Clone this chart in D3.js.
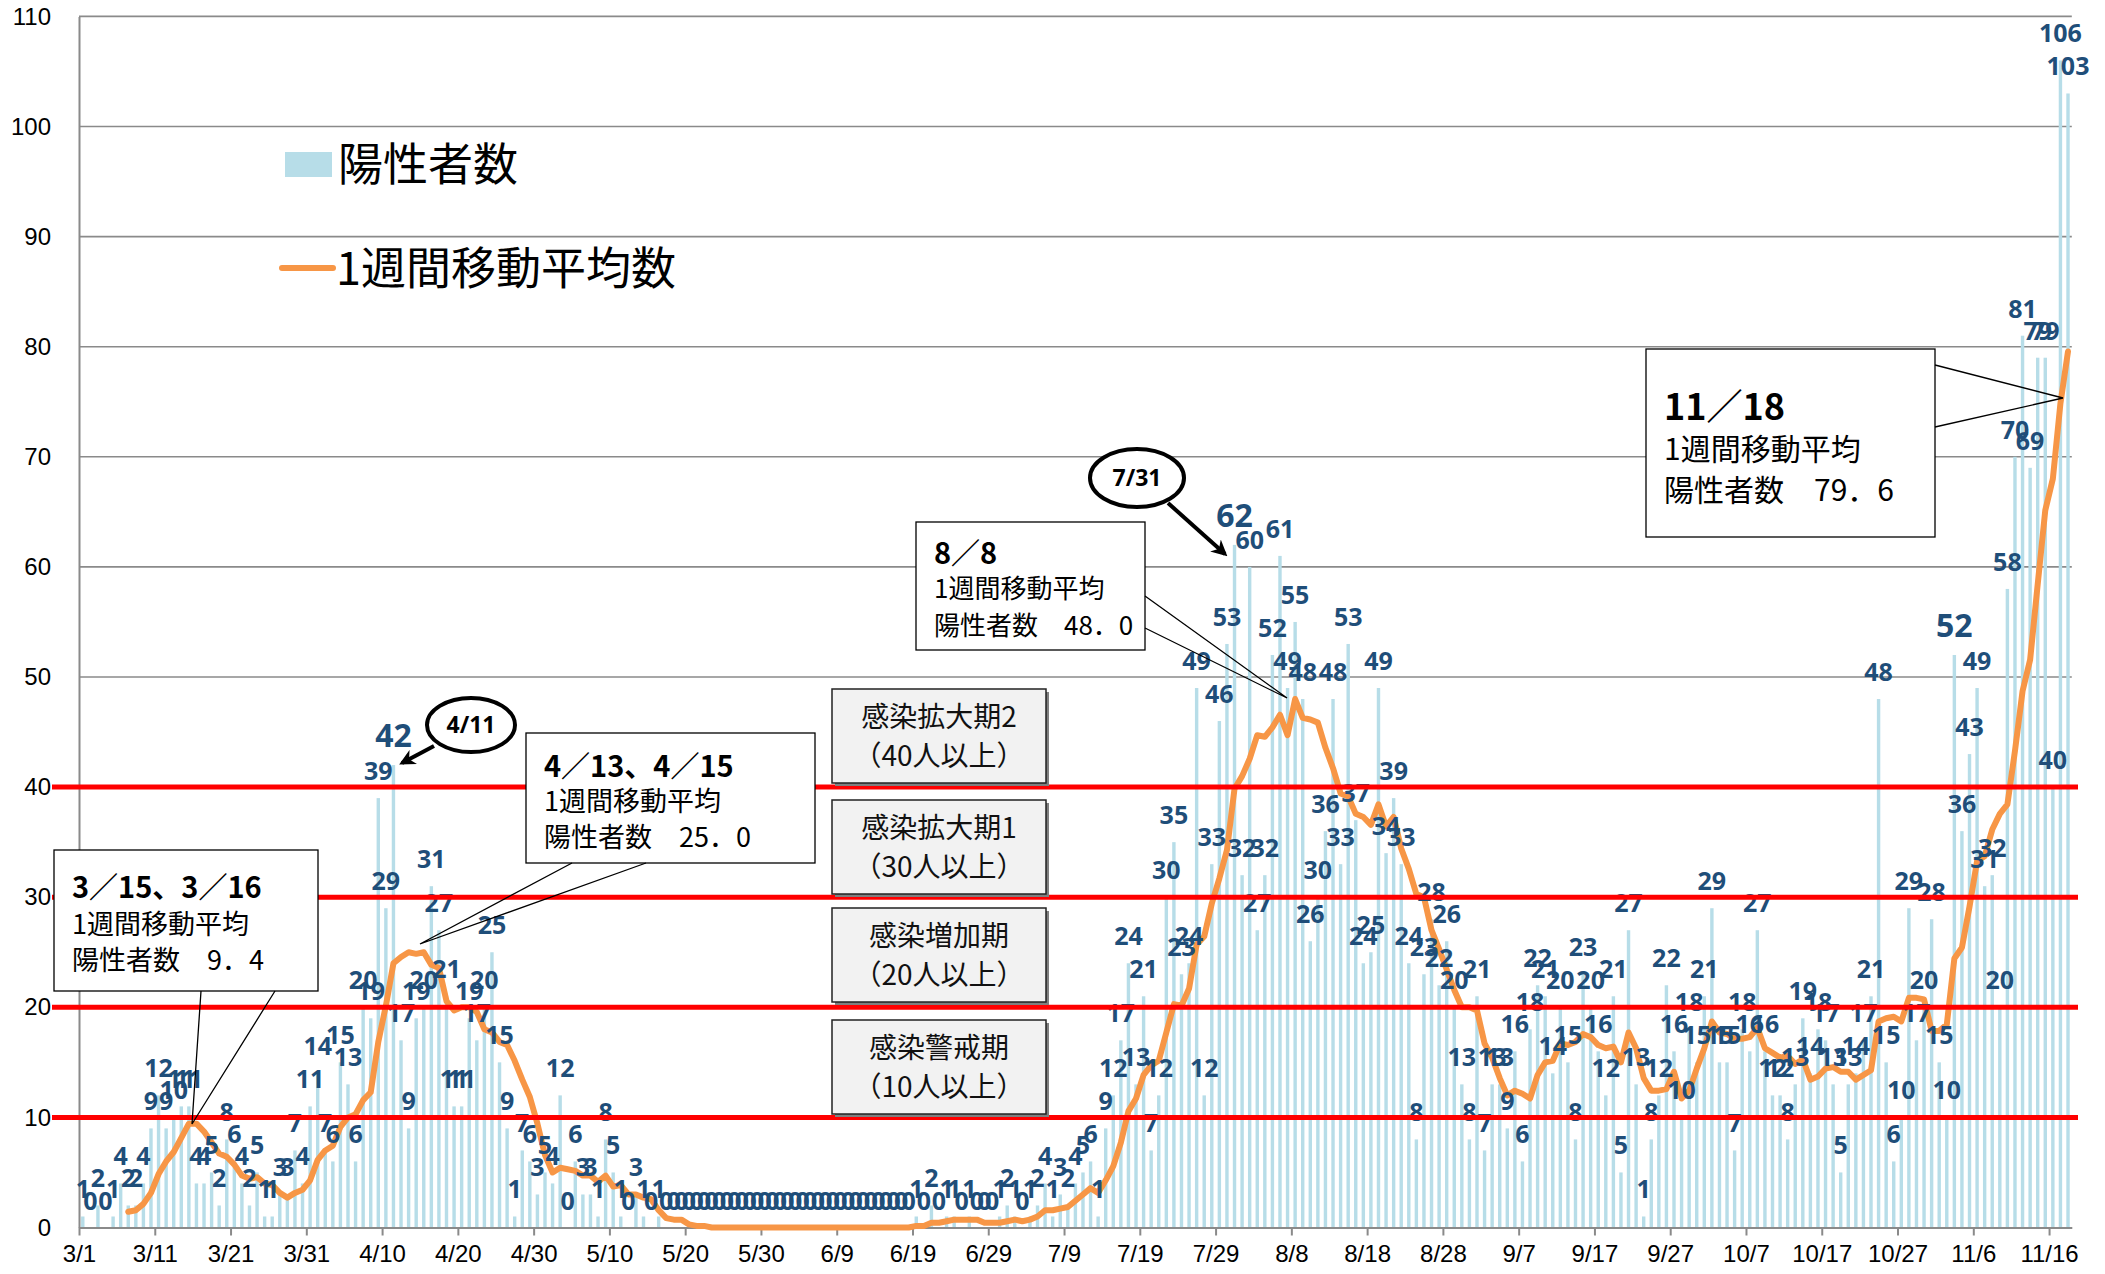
<!DOCTYPE html>
<html><head><meta charset="utf-8">
<script src="https://cdn.jsdelivr.net/npm/d3@7"></script>
<style>body{margin:0;background:#fff}svg{display:block}</style>
</head><body>
<svg id="c" width="2105" height="1274"></svg>
<script>
// ---- data ----
const categories = d3.timeDay.range(new Date(2020,2,1), new Date(2020,10,19))
  .map(d => (d.getMonth()+1) + "/" + d.getDate());
const dailyCounts = [
 1,0,2,0,1,4,2,2,4,9,
 12,9,10,11,11,4,4,5,2,8,
 6,4,2,5,1,1,3,3,7,4,
 11,14,7,6,15,13,6,20,19,39,
 29,42,17,9,19,20,31,27,21,11,
 11,19,17,20,25,15,9,1,7,6,
 3,5,4,12,0,6,3,3,1,8,
 5,1,0,3,1,0,1,0,0,0,
 0,0,0,0,0,0,0,0,0,0,
 0,0,0,0,0,0,0,0,0,0,
 0,0,0,0,0,0,0,0,0,0,
 1,0,2,0,1,1,0,1,0,0,
 0,1,2,1,0,1,2,4,1,3,
 2,4,5,6,1,9,12,17,24,13,
 21,7,12,30,35,23,24,49,12,33,
 46,53,62,32,60,27,32,52,61,49,
 55,48,26,30,36,48,33,53,37,24,
 25,49,34,39,33,24,8,23,28,22,
 26,20,13,8,21,7,13,13,9,16,
 6,18,22,21,14,20,15,8,23,20,
 16,12,21,5,27,13,1,8,12,22,
 16,10,18,15,21,29,15,15,7,18,
 16,27,16,12,12,8,13,19,14,18,
 17,13,5,13,14,17,21,48,15,6,
 10,29,17,20,28,15,10,52,36,43,
 49,31,32,20,58,70,81,69,79,79,
 40,106,103];
const tickLabels = ["3/1","3/11","3/21","3/31","4/10","4/20","4/30","5/10","5/20","5/30","6/9","6/19","6/29","7/9","7/19","7/29","8/8","8/18","8/28","9/7","9/17","9/27","10/7","10/17","10/27","11/6","11/16"];
const yTicks = [0,10,20,30,40,50,60,70,80,90,100,110];
const stageLevels = [10,20,30,40];
const stageNames = [["感染拡大期2","（40人以上）"],["感染拡大期1","（30人以上）"],["感染増加期","（20人以上）"],["感染警戒期","（10人以上）"]];
const bigLabelDays = ["4/11","7/31","11/3"];
const legendNames = ["陽性者数","1週間移動平均数"];
const callouts = [
  {lines:["3／15、3／16","1週間移動平均","陽性者数　9．4"]},
  {lines:["4／13、4／15","1週間移動平均","陽性者数　25．0"]},
  {lines:["8／8","1週間移動平均","陽性者数　48．0"]},
  {lines:["11／18","1週間移動平均","陽性者数　79．6"]}
];
// 7-day trailing moving average (the chart's 1週間移動平均)
const movingAvg = dailyCounts.map((v,i) => i < 6 ? null : d3.mean(dailyCounts.slice(i-6, i+1)));

// ---- layout ----
const svg = d3.select("#c");
const L = 79, R = 2071.8, B = 1227.5, T = 16.4;
const x = d3.scaleBand().domain(categories).range([L,R]).paddingInner(0.55).paddingOuter(0.275);
const xDay = d3.scaleLinear().domain([0, categories.length]).range([L,R]);
const y = d3.scaleLinear().domain([0,110]).range([B,T]);
const jp = "'Noto Sans CJK JP','Noto Sans',sans-serif";

// gridlines
svg.append("g").selectAll("line").data(yTicks.slice(1)).join("line")
  .attr("x1",L).attr("x2",R).attr("y1",d=>y(d)).attr("y2",d=>y(d))
  .attr("stroke","#8a8a8a").attr("stroke-width",1.6);

// bars
svg.append("g").selectAll("rect").data(dailyCounts).join("rect")
  .attr("x",(d,i)=>x(categories[i])).attr("width",x.bandwidth())
  .attr("y",d=>y(d)).attr("height",d=>B-y(d)).attr("fill","#b7dde8");

// axes
const yAxis = svg.append("g").attr("transform",`translate(${L},0)`)
  .call(d3.axisLeft(y).tickValues(yTicks).tickSize(0).tickPadding(28));
yAxis.select(".domain").attr("stroke","#8a8a8a").attr("stroke-width",2);
yAxis.selectAll("text").attr("font-family","'Liberation Sans',Arial,sans-serif").attr("font-size",24).attr("fill","#000");

const xAxis = svg.append("g").attr("transform",`translate(0,${B})`)
  .call(d3.axisBottom(xDay).tickValues(tickLabels.map(t=>categories.indexOf(t)))
    .tickFormat((d,i)=>tickLabels[i]).tickSize(8).tickSizeOuter(0).tickPadding(9));
xAxis.select(".domain").attr("stroke","#8a8a8a").attr("stroke-width",2);
xAxis.selectAll(".tick line").attr("stroke","#8a8a8a").attr("stroke-width",2);
xAxis.selectAll("text").attr("font-family","'Liberation Sans',Arial,sans-serif").attr("font-size",24).attr("fill","#000");

// moving average line
const line = d3.line().defined(d=>d!=null)
  .x((d,i)=>x(categories[i])+x.bandwidth()/2).y(d=>y(d));
svg.append("path").datum(movingAvg).attr("d",line)
  .attr("fill","none").attr("stroke","#f79646").attr("stroke-width",6)
  .attr("stroke-linejoin","round").attr("stroke-linecap","round");

// data labels
svg.append("g").selectAll("text").data(dailyCounts).join("text")
  .attr("x",(d,i)=>x(categories[i])+x.bandwidth()/2)
  .attr("y",d=>y(d)-18)
  .attr("text-anchor","middle")
  .attr("font-family","'Open Sans','DejaVu Sans',sans-serif").attr("font-weight",700)
  .attr("font-size",(d,i)=>bigLabelDays.includes(categories[i])?32:25)
  .attr("fill","#1f4e79").text(d=>d);

// red stage lines
svg.append("g").selectAll("line").data(stageLevels).join("line")
  .attr("x1",52).attr("x2",2078).attr("y1",d=>y(d)).attr("y2",d=>y(d))
  .attr("stroke","#ff0000").attr("stroke-width",5);

// stage boxes
const boxTops = [689,800,908,1020];
const sb = svg.append("g");
stageNames.forEach((nm,k)=>{
  const t = boxTops[k];
  sb.append("rect").attr("x",835).attr("y",t+3).attr("width",214).attr("height",94).attr("fill","#7f7f7f");
  sb.append("rect").attr("x",832).attr("y",t).attr("width",214).attr("height",94)
    .attr("fill","#f2f2f2").attr("stroke","#222").attr("stroke-width",1.5);
  sb.append("text").attr("x",939).attr("y",t+38).attr("text-anchor","middle")
    .attr("font-family",jp).attr("font-size",28).attr("fill","#111").text(nm[0]);
  sb.append("text").attr("x",939).attr("y",t+77).attr("text-anchor","middle")
    .attr("font-family",jp).attr("font-size",28).attr("fill","#111").text(nm[1]);
});

// callouts
const cg = svg.append("g");
function callout(c, box, base1, tip, base2, tx, lineYs, sizes){
  const [x0,y0,x1,y1] = box;
  cg.append("rect").attr("x",x0).attr("y",y0).attr("width",x1-x0).attr("height",y1-y0)
    .attr("fill","#fff").attr("stroke","#000").attr("stroke-width",1.3);
  cg.append("path").attr("d",`M${base1[0]},${base1[1]}L${tip[0]},${tip[1]}L${base2[0]},${base2[1]}`)
    .attr("fill","none").attr("stroke","#000").attr("stroke-width",1.3);
  c.lines.forEach((s,i)=>{
    cg.append("text").attr("x",tx).attr("y",lineYs[i]).attr("font-family",jp)
      .attr("font-size",sizes[i]).attr("font-weight",i==0?700:400).attr("fill","#000").text(s);
  });
}
callout(callouts[0],[54,850,318,991],[201,991],[192,1124],[275,991],72,[898,934,970],[29,27,27]);
callout(callouts[1],[526,733,815,863],[572,863],[420,944],[646,863],544,[777,811,847],[29,27,27]);
callout(callouts[2],[916,522,1145,650],[1145,596],[1287,698],[1145,628],934,[564,598,635],[29,26,26]);
callout(callouts[3],[1646,349,1935,537],[1935,365],[2063,398],[1935,427],1664,[420,460,501],[36,30,30]);

// ellipse tags with arrows
svg.append("defs").append("marker").attr("id","ah").attr("viewBox","0 0 10 10")
  .attr("refX",8).attr("refY",5).attr("markerWidth",4).attr("markerHeight",4).attr("orient","auto")
  .append("path").attr("d","M0,0L10,5L0,10L3,5Z").attr("fill","#000");
const tags = [{t:"4/11",cx:471,cy:725,rx:44,ry:27,a:[434,746,402,763]},
              {t:"7/31",cx:1137,cy:478,rx:47,ry:29,a:[1168,503,1225,554]}];
tags.forEach(g=>{
  svg.append("line").attr("x1",g.a[0]).attr("y1",g.a[1]).attr("x2",g.a[2]).attr("y2",g.a[3])
    .attr("stroke","#000").attr("stroke-width",4).attr("marker-end","url(#ah)");
  svg.append("ellipse").attr("cx",g.cx).attr("cy",g.cy).attr("rx",g.rx).attr("ry",g.ry)
    .attr("fill","#fff").attr("stroke","#000").attr("stroke-width",4);
  svg.append("text").attr("x",g.cx).attr("y",g.cy+8).attr("text-anchor","middle")
    .attr("font-family","'Open Sans',sans-serif").attr("font-weight",700).attr("font-size",23).text(g.t);
});

// legend
svg.append("rect").attr("x",285).attr("y",152).attr("width",47).attr("height",25).attr("fill","#b7dde8");
svg.append("line").attr("x1",282).attr("x2",333).attr("y1",268).attr("y2",268)
  .attr("stroke","#f79646").attr("stroke-width",6).attr("stroke-linecap","round");
svg.append("text").attr("x",338).attr("y",181).attr("font-family",jp).attr("font-size",45).text(legendNames[0]);
svg.append("text").attr("x",336).attr("y",285).attr("font-family",jp).attr("font-size",45).text(legendNames[1]);
</script>
</body></html>
